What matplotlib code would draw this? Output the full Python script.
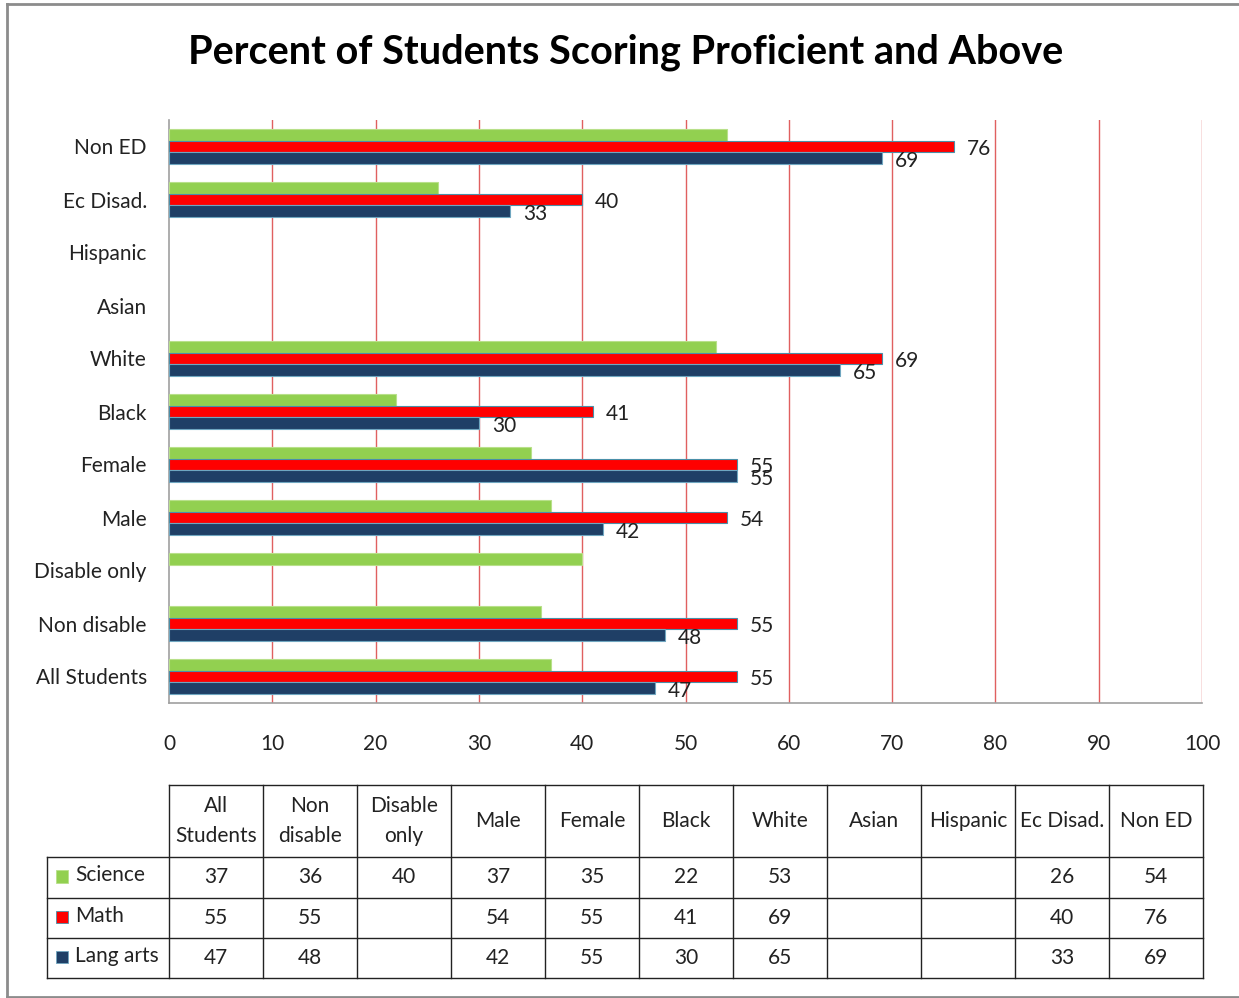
import matplotlib
matplotlib.use("Agg")
import matplotlib.pyplot as plt
from matplotlib.patches import Rectangle
from matplotlib.lines import Line2D

categories = ["All Students", "Non disable", "Disable only", "Male", "Female",
              "Black", "White", "Asian", "Hispanic", "Ec Disad.", "Non ED"]
table_headers = ["All\nStudents", "Non\ndisable", "Disable\nonly", "Male", "Female",
                 "Black", "White", "Asian", "Hispanic", "Ec Disad.", "Non ED"]
science = [37, 36, 40, 37, 35, 22, 53, None, None, 26, 54]
math = [55, 55, None, 54, 55, 41, 69, None, None, 40, 76]
lang_arts = [47, 48, None, 42, 55, 30, 65, None, None, 33, 69]
series_names = ["Science", "Math", "Lang arts"]
x_ticks = [0, 10, 20, 30, 40, 50, 60, 70, 80, 90, 100]

colors = {"Science": "#92D050", "Math": "#FF0000", "Lang arts": "#1F3F66"}
edges = {"Science": "#B8E08A", "Math": "#4A8FA8", "Lang arts": "#6FA6C0"}

plt.rcParams['font.family'] = ['Lato', 'DejaVu Sans']

W, H = 1239, 998
fig = plt.figure(figsize=(W / 100, H / 100), dpi=100)

def fig_rect(l, t, r, b):
    return [l / W, 1 - b / H, (r - l) / W, (b - t) / H]

# outer frame
frame_col = "#8C8C8C"
fig.add_artist(Line2D([7 / W, 7 / W], [1 - 997 / H, 1 - 4 / H], color=frame_col, lw=2, transform=fig.transFigure))
fig.add_artist(Line2D([7 / W, 1.0], [1 - 4 / H, 1 - 4 / H], color=frame_col, lw=2, transform=fig.transFigure))
fig.add_artist(Line2D([7 / W, 1.0], [1 - 997 / H, 1 - 997 / H], color=frame_col, lw=2, transform=fig.transFigure))

fig.text(626 / W, 1 - 52 / H, "Percent of Students Scoring Proficient and Above",
         ha="center", va="center", fontsize=28.5, fontweight="bold", color="black")

ax = fig.add_axes(fig_rect(169, 120, 1202, 703))
bh = 0.226
offsets = {"Science": bh, "Math": 0.0, "Lang arts": -bh}
data = {"Science": science, "Math": math, "Lang arts": lang_arts}
for name in series_names:
    vals = data[name]
    for i, v in enumerate(vals):
        if v is None:
            continue
        y = i + offsets[name]
        ax.barh(y, v, height=bh, color=colors[name], edgecolor=edges[name], linewidth=0.8, zorder=3)
        if name != "Science":
            ax.text(v + 1.25, y - 0.04, str(v), ha="left", va="center", fontsize=15, color="#222222", zorder=4)

ax.set_xlim(0, 100)
ax.set_ylim(-0.5, 10.5)
ax.set_xticks(x_ticks)
ax.set_xticklabels([str(t) for t in x_ticks], fontsize=15, color="#222222")
ax.set_yticks(range(len(categories)))
ax.set_yticklabels(categories, fontsize=15, color="#222222")
ax.tick_params(axis="x", length=0, pad=22)
ax.tick_params(axis="y", length=0, pad=16)
for x in x_ticks[1:]:
    ax.axvline(x, color="#E06060", lw=1.0, zorder=1)
for s in ["top", "right"]:
    ax.spines[s].set_visible(False)
ax.spines["left"].set_color("#A0A0A0")
ax.spines["bottom"].set_color("#A0A0A0")
ax.spines["left"].set_linewidth(1.2)
ax.spines["bottom"].set_linewidth(1.2)

# data table
tx = fig.add_axes(fig_rect(47, 785, 1203, 978))
ncol = len(categories)
cw = 100 / ncol
left_edge = -(169 - 47) / (1033 / 100)
tx.set_xlim(left_edge, 100)
row_edges = [0, 72, 112, 152, 192]
tx.set_ylim(192, 0)
tx.axis("off")
lc = "#222222"
lw = 1.0
tx.plot([0, 100], [0, 0], color=lc, lw=lw, clip_on=False)
for y in row_edges[1:]:
    tx.plot([left_edge, 100], [y, y], color=lc, lw=lw, clip_on=False)
for j in range(ncol + 1):
    tx.plot([j * cw, j * cw], [0, 192], color=lc, lw=lw, clip_on=False)
tx.plot([left_edge, left_edge], [72, 192], color=lc, lw=lw, clip_on=False)

for j, h in enumerate(table_headers):
    tx.text((j + 0.5) * cw, 36, h, ha="center", va="center", fontsize=15,
            color="#222222", linespacing=1.6)
for r, name in enumerate(series_names):
    yc = (row_edges[r + 1] + row_edges[r + 2]) / 2
    vals = data[name]
    for j, v in enumerate(vals):
        if v is not None:
            tx.text((j + 0.5) * cw, yc, str(v), ha="center", va="center", fontsize=15, color="#222222")
    tx.add_patch(Rectangle((left_edge + 0.9, yc - 1 - 6), 1.15, 12, facecolor=colors[name],
                           edgecolor=edges[name], lw=0.6, clip_on=False))
    tx.text(left_edge + 2.7, yc - 2, name, ha="left", va="center", fontsize=15, color="#222222")

fig.savefig("out.png", dpi=100)
